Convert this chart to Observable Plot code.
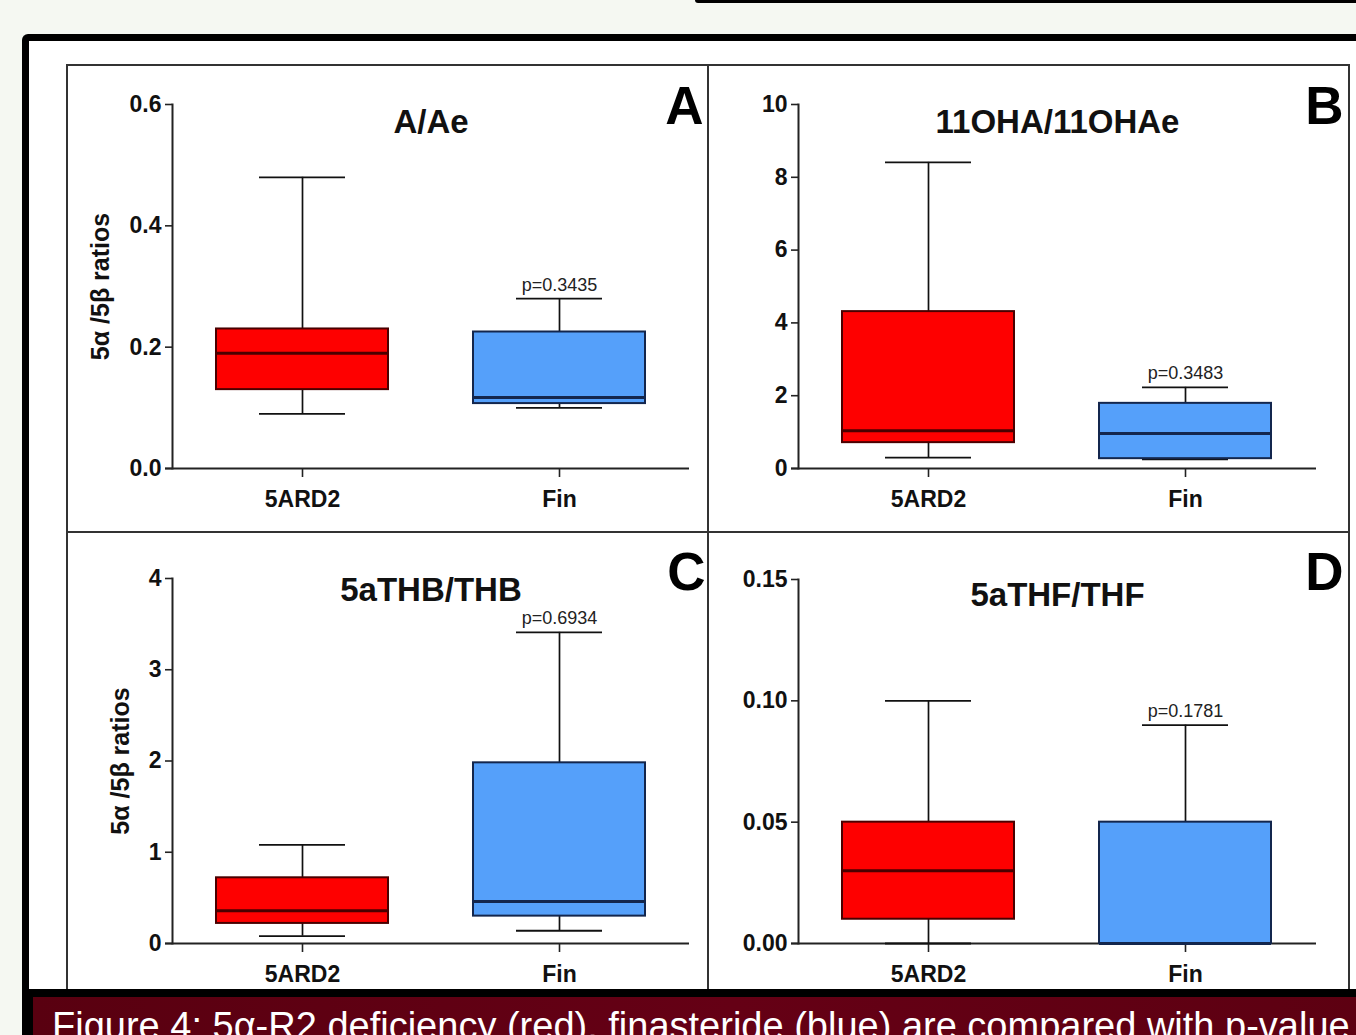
<!DOCTYPE html>
<html><head><meta charset="utf-8">
<script src="https://cdn.jsdelivr.net/npm/d3@7"></script>
<script src="https://cdn.jsdelivr.net/npm/@observablehq/plot@0.6"></script>
<style>
html,body{margin:0;padding:0}
body{width:1356px;height:1035px;overflow:hidden;position:relative;background:#f5f8f2;font-family:"Liberation Sans",Arial,sans-serif}
.abs{position:absolute}
</style></head><body>
<div class="abs" style="left:695px;top:0;width:700px;height:3px;background:#000;border-bottom-left-radius:5px"></div>
<div class="abs" style="left:22px;top:34px;width:1400px;height:1100px;background:#000;border-radius:6px"></div>
<div id="sheet" class="abs" style="left:29px;top:41px;width:1400px;height:948px;background:#fff;overflow:hidden"></div>
<div id="caption" class="abs" style="left:33px;top:997px;width:1400px;height:60px;background:linear-gradient(90deg,#590010,#650015 50%,#5c0011);overflow:hidden">
<span class="abs" style="left:19px;top:10px;white-space:nowrap;color:#fff;font-size:38px;line-height:38px">Figure 4: 5α-R2 deficiency (red), finasteride (blue) are compared with p-value</span>
</div>
<script>
// ---- data ----
const groups = ["5ARD2", "Fin"];
const panelLetters = ["A", "B", "C", "D"];
const panelTitles = ["A/Ae", "11OHA/11OHAe", "5aTHB/THB", "5aTHF/THF"];
const lowWhisker    = [[0.09, 0.10], [0.30, 0.25], [0.08, 0.14], [0.00, 0.00]];
const lowerQuartile = [[0.13, 0.107], [0.71, 0.27], [0.22, 0.30], [0.01, 0.00]];
const medians       = [[0.19, 0.117], [1.04, 0.96], [0.36, 0.46], [0.03, 0.00]];
const upperQuartile = [[0.23, 0.225], [4.31, 1.79], [0.72, 1.98], [0.05, 0.05]];
const highWhisker   = [[0.48, 0.28], [8.41, 2.23], [1.08, 3.41], [0.10, 0.09]];
const pLabels = ["p=0.3435", "p=0.3483", "p=0.6934", "p=0.1781"];
const yTickValues = [[0, 0.2, 0.4, 0.6], [0, 2, 4, 6, 8, 10], [0, 1, 2, 3, 4], [0, 0.05, 0.10, 0.15]];
const yTickFormats = [".1f", "d", "d", ".2f"];
const yAxisTitle = "5α /5β ratios";
const showYTitle = [true, false, true, false];

// ---- styles / layout ----
const groupFill = ["#fe0000", "#55a0fa"];
const groupDark = ["#4a0000", "#13264d"];
const FONT = '"Liberation Sans", Arial, Helvetica, sans-serif';
const layout = [
  {left: 67,  top: 65,  width: 641, height: 467, axisX: 172, rangeEnd: 689,  yTop: 104, yBase: 468, letterDx: 14, letterDy: 3,  titleDy: 18, yTitleDx: -72},
  {left: 708, top: 65,  width: 641, height: 467, axisX: 798, rangeEnd: 1316, yTop: 104, yBase: 468, letterDx: 27, letterDy: 3,  titleDy: 18, yTitleDx: 0},
  {left: 67,  top: 532, width: 641, height: 470, axisX: 172, rangeEnd: 689,  yTop: 578, yBase: 943, letterDx: 16, letterDy: -5, titleDy: 12, yTitleDx: -52},
  {left: 708, top: 532, width: 641, height: 470, axisX: 798, rangeEnd: 1316, yTop: 579, yBase: 943, letterDx: 27, letterDy: -6, titleDy: 16, yTitleDx: 0}
];
const sheet = document.getElementById("sheet");
const SX = 29, SY = 41;

layout.forEach((L, i) => {
  const rows = groups.map((g, j) => ({
    group: g, lo: lowWhisker[i][j], q1: lowerQuartile[i][j], med: medians[i][j],
    q3: upperQuartile[i][j], hi: highWhisker[i][j], fill: groupFill[j], dark: groupDark[j]
  }));
  const ticks = yTickValues[i];
  const marks = [
    Plot.ruleY([0], {insetLeft: -7, stroke: "#222", strokeWidth: 2}),
    Plot.frame({anchor: "left", stroke: "#222", strokeWidth: 2}),
    Plot.axisY({ticks, tickFormat: d3.format(yTickFormats[i]), tickSize: 7, tickPadding: 4, fontSize: 23, label: null, stroke: "#222", strokeWidth: 1.6}),
    Plot.axisX({tickSize: 9, tickPadding: 13, fontSize: 23, label: null, stroke: "#222", strokeWidth: 1.6}),
    Plot.ruleX(rows, {x: "group", y1: "q3", y2: "hi", stroke: "#111", strokeWidth: 1.7}),
    Plot.ruleX(rows, {x: "group", y1: "lo", y2: "q1", stroke: "#111", strokeWidth: 1.7}),
    Plot.tickY(rows, {x: "group", y: "hi", insetLeft: 43, insetRight: 43, stroke: "#111", strokeWidth: 1.8}),
    Plot.tickY(rows, {x: "group", y: "lo", insetLeft: 43, insetRight: 43, stroke: "#111", strokeWidth: 1.8}),
    Plot.barY(rows, {x: "group", y1: "q1", y2: "q3", fill: "fill", stroke: "dark", strokeWidth: 2}),
    Plot.tickY(rows, {x: "group", y: "med", stroke: "dark", strokeWidth: 3}),
    Plot.text([rows[1]], {x: "group", y: "hi", text: () => pLabels[i], lineAnchor: "bottom", dy: -8, fontSize: 18, fontWeight: "normal", fill: "#222"}),
    Plot.text([panelTitles[i]], {frameAnchor: "top", dy: L.titleDy, lineAnchor: "middle", fontSize: 33, fill: "#111"}),
    Plot.text([panelLetters[i]], {frameAnchor: "top-right", dx: L.letterDx, dy: L.letterDy, textAnchor: "end", lineAnchor: "middle", fontSize: 53, fill: "#000"})
  ];
  if (showYTitle[i]) {
    marks.push(Plot.text([yAxisTitle], {frameAnchor: "left", dx: L.yTitleDx, rotate: -90, textAnchor: "middle", lineAnchor: "middle", fontSize: 25, fill: "#111"}));
  }
  const chart = Plot.plot({
    width: L.width, height: L.height,
    marginLeft: L.axisX - L.left,
    marginRight: L.left + L.width - L.rangeEnd,
    marginTop: L.yTop - L.top,
    marginBottom: L.top + L.height - L.yBase,
    x: {type: "band", domain: groups, paddingInner: 0.33, paddingOuter: 0.17, align: 0.5, label: null},
    y: {domain: [0, ticks[ticks.length - 1]], nice: false, label: null},
    color: {type: "identity"},
    style: {fontFamily: FONT, fontWeight: "bold", background: "transparent", maxWidth: "none", color: "#111"},
    marks
  });
  const wrap = document.createElement("div");
  wrap.className = "abs";
  wrap.style.left = (L.left - SX) + "px";
  wrap.style.top = (L.top - SY) + "px";
  wrap.appendChild(chart);
  sheet.appendChild(wrap);
});

// panel borders
function line(l, t, w, h) {
  const d = document.createElement("div");
  d.className = "abs";
  Object.assign(d.style, {left: (l - SX) + "px", top: (t - SY) + "px", width: w + "px", height: h + "px", background: "#333"});
  sheet.appendChild(d);
}
line(66, 64, 1284, 2);      // top
line(66, 64, 2, 1000);      // left
line(1348, 64, 2, 1000);    // right
line(707, 64, 2, 1000);     // middle vertical
line(66, 531, 1284, 2);     // middle horizontal
</script>
</body></html>
